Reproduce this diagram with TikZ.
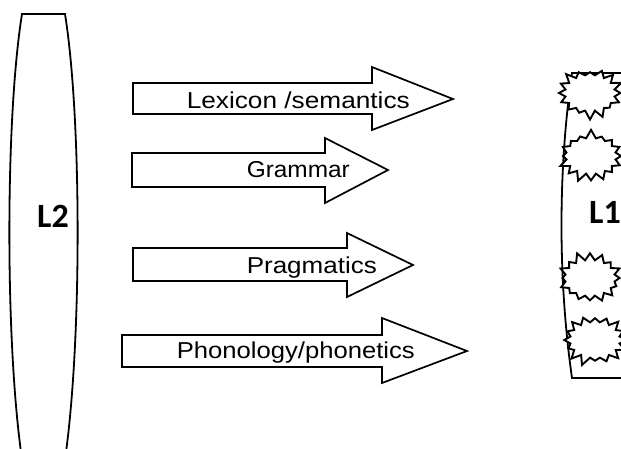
\documentclass[tikz,border=0pt]{standalone}
\usepackage{fontspec}
\usepackage{graphicx}
\setmainfont{Liberation Sans}
\newfontfamily\calib{Carlito}
\usetikzlibrary{shapes.symbols}
\tikzset{
  arrowbox/.style={draw=black, fill=white, line width=1.7pt, line join=miter},
  arrowlabel/.style={anchor=base east, inner sep=0pt, font=\fontsize{23}{25}\selectfont},
  bigL/.style={inner sep=0pt, font=\calib\bfseries\fontsize{34}{38}\selectfont},
  barrel/.style={draw=black, line width=1.8pt},
  burst/.style={starburst, draw=black, fill=white, line width=1.9pt, inner sep=0pt,
    minimum width=68pt, minimum height=54pt, starburst points=16, starburst point height=9pt}
}
\newcommand\fitw[2]{\resizebox{#1}{\height}{#2}}
\begin{document}
\begin{tikzpicture}[x=1pt,y=-1pt]
\useasboundingbox (0,0) rectangle (621,448);
\clip (0,0) rectangle (621,448);
% L2 barrel
\draw[barrel] (22,14) -- (65,14) .. controls (82,120) and (82,350) .. (64,466)
  -- (23,466) .. controls (5,350) and (5,120) .. (22,14) -- cycle;
\node[bigL, anchor=base west] (L2) at (37,227) {L2};
% L1 barrel
\draw[barrel] (640,73) -- (572,73) .. controls (558,170) and (558,280) .. (572,378) -- (640,378);
\node[burst, random starburst=3] (s1) at (590,93) {};
\node[burst, random starburst=7] (s2) at (591,156) {};
\node[burst, random starburst=11] (s3) at (590,278) {};
\node[burst, random starburst=19] (s4) at (595,340) {};
\node[bigL, anchor=base west] (L1) at (589,223) {L1};
% arrows
\draw[arrowbox] (133,83) -- (372,83) -- (372,67) -- (453,99) -- (372,130) -- (372,114) -- (133,114) -- cycle;
\node[arrowlabel] (t1) at (410,108) {\fitw{223pt}{Lexicon /semantics}};
\draw[arrowbox] (132,153) -- (325,153) -- (325,138) -- (388,170) -- (325,203) -- (325,187) -- (132,187) -- cycle;
\node[arrowlabel] (t2) at (350,177) {\fitw{103pt}{Grammar}};
\draw[arrowbox] (133,248) -- (347,248) -- (347,233) -- (413,265) -- (347,297) -- (347,281) -- (133,281) -- cycle;
\node[arrowlabel] (t3) at (377,273) {\fitw{130pt}{Pragmatics}};
\draw[arrowbox] (122,335) -- (382,335) -- (382,318) -- (467,351) -- (382,383) -- (382,367) -- (122,367) -- cycle;
\node[arrowlabel] (t4) at (415,358) {\fitw{238pt}{Phonology/phonetics}};
\end{tikzpicture}
\end{document}
